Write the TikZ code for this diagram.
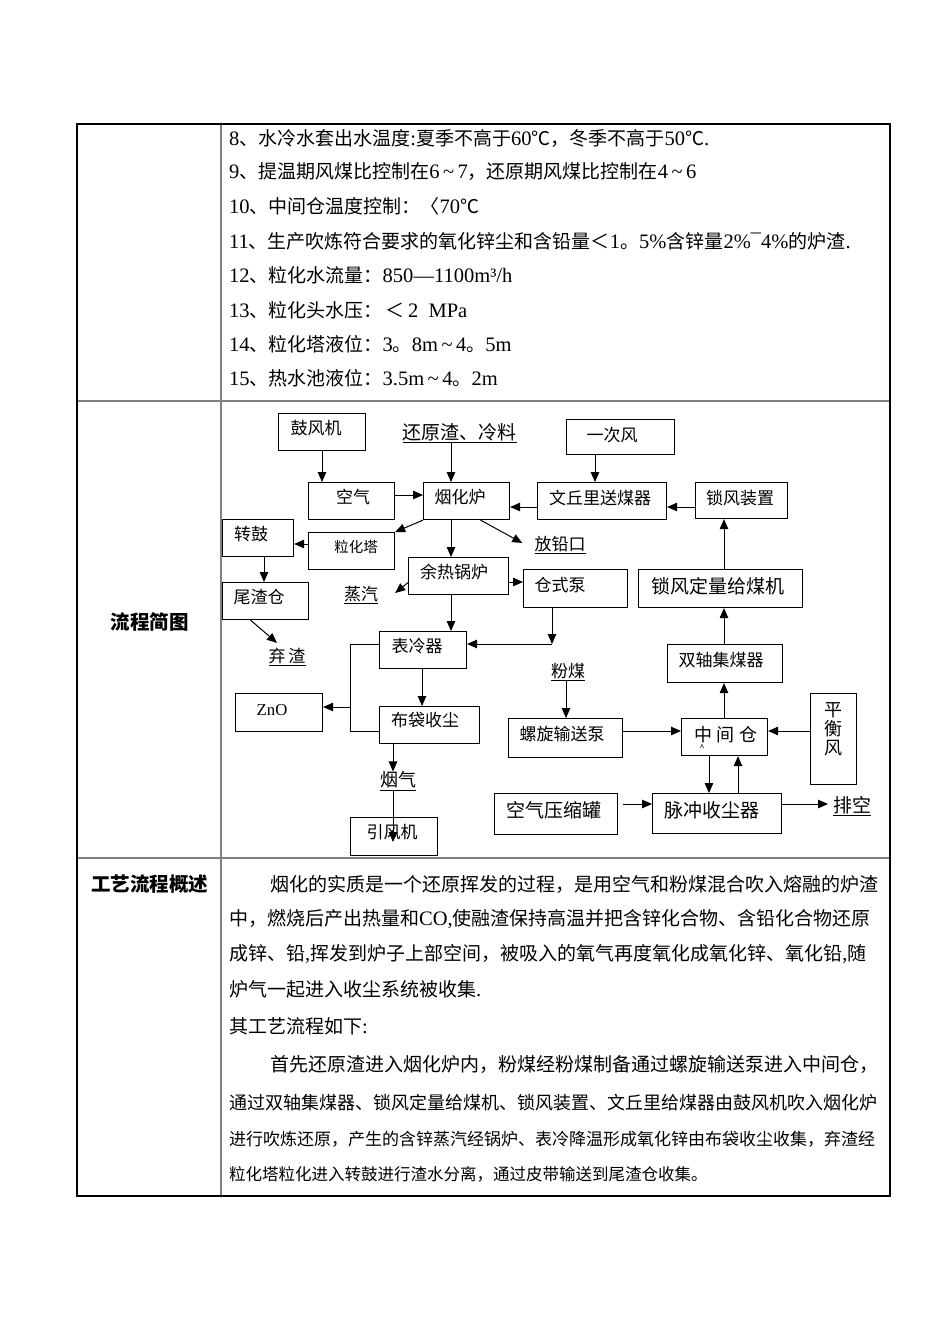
\documentclass[tikz,border=0pt]{standalone}
\usepackage{fontspec}
\setmainfont{Noto Sans CJK SC}
\newfontfamily\latf[Scale=1.08]{Liberation Serif}
\newcommand\la[1]{{\latf #1}}
\usetikzlibrary{arrows.meta}
\definecolor{gridgray}{RGB}{128,128,128}
\XeTeXlinebreaklocale "zh"
\XeTeXlinebreakskip=0pt plus 3pt
\XeTeXlinebreakpenalty=10000
\begin{document}
\begin{tikzpicture}[x=1pt,y=-1pt,
  frame/.style={line width=1.3pt, black},
  sepline/.style={line width=1.6pt, gridgray},
  box/.style={draw, line width=1.1pt, rectangle, inner sep=0pt, anchor=north west},
  lbl/.style={inner sep=0pt, font=\fontsize{17}{17}\selectfont},
  big/.style={inner sep=0pt, font=\fontsize{19}{19}\selectfont},
  body/.style={inner sep=0pt, anchor=west, font=\fontsize{19}{23}\selectfont},
  just/.style={body, text width=#1, align=justify},
  head/.style={inner sep=0pt, font=\fontsize{19.5}{19.5}\selectfont\bfseries},
  arr/.style={line width=1pt, -{Triangle[length=10pt,width=8.5pt]}},
  ln/.style={line width=1pt}]
\fill[white] (0,0) rectangle (950,1344);
\useasboundingbox (0,0) rectangle (950,1344);

% ---------- table ----------
\draw[sepline] (221,124) -- (221,1196);
\draw[sepline] (77,401) -- (890,401);
\draw[sepline] (77,858) -- (890,858);
\draw[frame] (77,124) rectangle (890,1196);

\node[head] (h1) at (149.5,622) {流程简图};
\node[head] (h2) at (149.5,884) {工艺流程概述};

% ---------- top list ----------
\node[body] (r8) at (229,138) {\la{8}、水冷水套出水温度\la{:}夏季不高于\la{60}℃，冬季不高于\la{50}℃\la{.}};
\node[body] (r9) at (229,172) {\la{9}、提温期风煤比控制在\la{6\,\textasciitilde\,7}，还原期风煤比控制在\la{4\,\textasciitilde\,6}};
\node[body] (r10) at (229,206) {\la{10}、中间仓温度控制：〈\la{70}℃};
\node[body] (r11) at (229,241) {\la{11}、生产吹炼符合要求的氧化锌尘和含铅量＜\la{1}。\la{5\%}含锌量\la{2\%¯4\%}的炉渣\la{.}};
\node[body] (r12) at (229,275) {\la{12}、粒化水流量：\la{850—1100m³/h}};
\node[body] (r13) at (229,310) {\la{13}、粒化头水压：\,＜\,\la{2\ \ MPa}};
\node[body] (r14) at (229,344) {\la{14}、粒化塔液位：\la{3}。\la{8m\,\textasciitilde\,4}。\la{5m}};
\node[body] (r15) at (229,378) {\la{15}、热水池液位：\la{3.5m\,\textasciitilde\,4}。\la{2m}};

% ---------- description ----------
\node[just=610pt] (d1) at (270,884) {\parfillskip=0pt 烟化的实质是一个还原挥发的过程，是用空气和粉煤混合吹入熔融的炉渣};
\node[just=651pt] (d2) at (229,919) {\parfillskip=0pt 中，燃烧后产出热量和\la{CO,}使融渣保持高温并把含锌化合物、含铅化合物还原};
\node[just=651pt] (d3) at (229,954) {\parfillskip=0pt 成锌、铅\la{,}挥发到炉子上部空间，被吸入的氧气再度氧化成氧化锌、氧化铅\la{,}随};
\node[body] (d4) at (229,989) {炉气一起进入收尘系统被收集\la{.}};
\node[body] (d5) at (229,1026) {其工艺流程如下\la{:}};
\node[just=610pt] (d6) at (270,1064) {\parfillskip=0pt 首先还原渣进入烟化炉内，粉煤经粉煤制备通过螺旋输送泵进入中间仓，};
\node[just=651pt, font=\fontsize{18}{22}\selectfont] (d7) at (229,1103) {\parfillskip=0pt 通过双轴集煤器、锁风定量给煤机、锁风装置、文丘里给煤器由鼓风机吹入烟化炉};
\node[just=651pt, font=\fontsize{17}{21}\selectfont] (d8) at (229,1139) {\parfillskip=0pt 进行吹炼还原，产生的含锌蒸汽经锅炉、表冷降温形成氧化锌由布袋收尘收集，弃渣经};
\node[body, font=\fontsize{16.5}{20}\selectfont] (d9) at (229,1174) {粒化塔粒化进入转鼓进行渣水分离，通过皮带输送到尾渣仓收集。};

% ---------- flow chart boxes ----------
\node[box, minimum width=87pt, minimum height=37pt] (gfj) at (278,413) {};
\node[box, minimum width=86pt, minimum height=37pt] (kq) at (308,482) {};
\node[box, minimum width=86pt, minimum height=37pt] (yhl) at (423,482) {};
\node[box, minimum width=129pt, minimum height=37pt] (wql) at (537,482) {};
\node[box, minimum width=108pt, minimum height=35pt] (ycf) at (566,419) {};
\node[box, minimum width=92pt, minimum height=36pt] (sfz) at (695,482) {};
\node[box, minimum width=164pt, minimum height=38pt] (sfd) at (638,569) {};
\node[box, minimum width=86pt, minimum height=37pt] (lht) at (308,532) {};
\node[box, minimum width=71pt, minimum height=37pt] (zg) at (222,519) {};
\node[box, minimum width=86pt, minimum height=37pt] (wzc) at (222,582) {};
\node[box, minimum width=100pt, minimum height=37pt] (yrg) at (408,557) {};
\node[box, minimum width=104pt, minimum height=38pt] (csb) at (523,569) {};
\node[box, minimum width=87pt, minimum height=37pt] (blq) at (379,631) {};
\node[box, minimum width=100pt, minimum height=37pt] (bd) at (379,706) {};
\node[box, minimum width=87pt, minimum height=38pt] (zno) at (235,693) {};
\node[box, minimum width=87pt, minimum height=38pt] (yfj) at (350,817) {};
\node[box, minimum width=115pt, minimum height=38pt] (szj) at (667,644) {};
\node[box, minimum width=114pt, minimum height=39pt] (lx) at (508,718) {};
\node[box, minimum width=86pt, minimum height=37pt] (zjc) at (681,718) {};
\node[box, minimum width=46pt, minimum height=91pt] (phf) at (810,693) {};
\node[box, minimum width=129pt, minimum height=40pt] (mc) at (652,793) {};
\node[box, minimum width=123pt, minimum height=41pt] (kqy) at (494,793) {};

% box texts
\node[lbl] (tgfj) at (316,428) {鼓风机};
\node[lbl] (tkq) at (353,497) {空气};
\node[lbl] (tyhl) at (460,497) {烟化炉};
\node[lbl] (twql) at (600,498) {文丘里送煤器};
\node[lbl] (tycf) at (612,435) {一次风};
\node[lbl] (tsfz) at (740,498) {锁风装置};
\node[big] (tsfd) at (718,586) {锁风定量给煤机};
\node[lbl, font=\fontsize{14.5}{14.5}\selectfont] (tlht) at (356,547) {粒化塔};
\node[lbl] (tzg) at (251,534) {转鼓};
\node[lbl] (twzc) at (259,597) {尾渣仓};
\node[lbl] (tyrg) at (454,572) {余热锅炉};
\node[lbl] (tcsb) at (560,585) {仓式泵};
\node[lbl] (tblq) at (417,646) {表冷器};
\node[lbl] (tbd) at (425,720) {布袋收尘};
\node[lbl, font=\fontsize{15.5}{15.5}\selectfont\latf] (tzno) at (272,710) {ZnO};
\node[lbl] (tyfj) at (392,832) {引风机};
\node[lbl] (tszj) at (721,660) {双轴集煤器};
\node[lbl] (tlx) at (562,734) {螺旋输送泵};
\node[lbl, font=\fontsize{18}{18}\selectfont] (tzjc) at (726,735) {中\hspace{5pt}间\hspace{5pt}仓};
\node[lbl, font=\fontsize{9}{9}\selectfont] (caret) at (702,748) {\textasciicircum};
\node[lbl, font=\fontsize{18}{19}\selectfont, align=center] (tphf) at (833,729) {平\\衡\\风};
\node[big] (tmc) at (712,810) {脉冲收尘器};
\node[big] (tkqy) at (554,810) {空气压缩罐};

% free labels
\node[big] (hyz) at (459.5,433) {\underline{还原渣、冷料}};
\node[lbl] (fqk) at (560,545) {\underline{放铅口}};
\node[lbl] (zq) at (361,595) {\underline{蒸汽}};
\node[lbl] (qz) at (287,657) {\underline{弃\hspace{3pt}渣}};
\node[lbl, font=\fontsize{18}{18}\selectfont] (yq) at (398,781) {\underline{烟气}};
\node[lbl] (fm) at (568,672) {\underline{粉煤}};
\node[big] (pk) at (852,806) {\underline{排空}};

% lanes
\coordinate (X322) at (322,0);
\coordinate (X451) at (451,0);
\coordinate (X595) at (595,0);
\coordinate (X724) at (724,0);
\coordinate (X264) at (264,0);
\coordinate (X422) at (422,0);
\coordinate (X393) at (393,0);
\coordinate (X566) at (566,0);
\coordinate (X709) at (709,0);
\coordinate (X738) at (738,0);
\coordinate (Y495) at (0,495);
\coordinate (Y507) at (0,507);
\coordinate (Y544) at (0,544);
\coordinate (Y582) at (0,582);
\coordinate (Y731) at (0,731);
\coordinate (Y804) at (0,804);
\coordinate (J1) at (552,644);
\coordinate (B1) at (350,644);
\coordinate (B2) at (350,731);
\coordinate (B3) at (350,707);
\coordinate (T1) at (393,842);
\coordinate (K1) at (623,804);
\coordinate (P1) at (828,804);

% connectors
\draw[arr] (gfj.south -| X322) -- (kq.north -| X322);
\draw[arr] (hyz.south -| X451) -- (yhl.north -| X451);
\draw[arr] (kq.east |- Y495) -- (yhl.west |- Y495);
\draw[arr] (wql.west |- Y507) -- (yhl.east |- Y507);
\draw[arr] (ycf.south -| X595) -- (wql.north -| X595);
\draw[arr] (sfz.west |- Y507) -- (wql.east |- Y507);
\draw[arr] (sfd.north -| X724) -- (sfz.south -| X724);
\draw[arr] ([xshift=14pt]yhl.south) -- ([xshift=-12pt,yshift=2pt]fqk.west);
\draw[arr] (yhl.south west) -- (lht.north east);
\draw[arr] (lht.west |- Y544) -- (zg.east |- Y544);
\draw[arr] (zg.south -| X264) -- (wzc.north -| X264);
\draw[arr] ([xshift=-15pt]wzc.south) -- ([xshift=-10pt,yshift=5pt]qz.north);
\draw[arr] (yhl.south -| X451) -- (yrg.north -| X451);
\draw[arr] ([yshift=-6.5pt]yrg.west) -- ([xshift=17pt,yshift=2pt]zq.east);
\draw[arr] (yrg.east |- Y582) -- (csb.west |- Y582);
\draw[arr] (yrg.south -| X451) -- (blq.north -| X451);
\draw[arr] (csb.south -| J1) -- (J1);
\draw[arr] (J1) -- (blq.east |- J1);
\draw[ln] (blq.west |- B1) -- (B1) -- (B2) -- (bd.west |- B2);
\draw[arr] (B3) -- (zno.east |- B3);
\draw[arr] (blq.south -| X422) -- (bd.north -| X422);
\draw[arr] (bd.south -| X393) -- (yq.north -| X393);
\draw[arr] (yq.south -| X393) -- (T1);
\draw[arr] (szj.north -| X724) -- (sfd.south -| X724);
\draw[arr] (fm.south -| X566) -- (lx.north -| X566);
\draw[arr] (lx.east |- Y731) -- (zjc.west |- Y731);
\draw[arr] (zjc.north -| X724) -- (szj.south -| X724);
\draw[arr] (phf.west |- Y731) -- (zjc.east |- Y731);
\draw[arr] (zjc.south -| X709) -- (mc.north -| X709);
\draw[arr] (mc.north -| X738) -- (zjc.south -| X738);
\draw[arr] (K1) -- (mc.west |- K1);
\draw[arr] (mc.east |- Y804) -- (P1);
\end{tikzpicture}
\end{document}
